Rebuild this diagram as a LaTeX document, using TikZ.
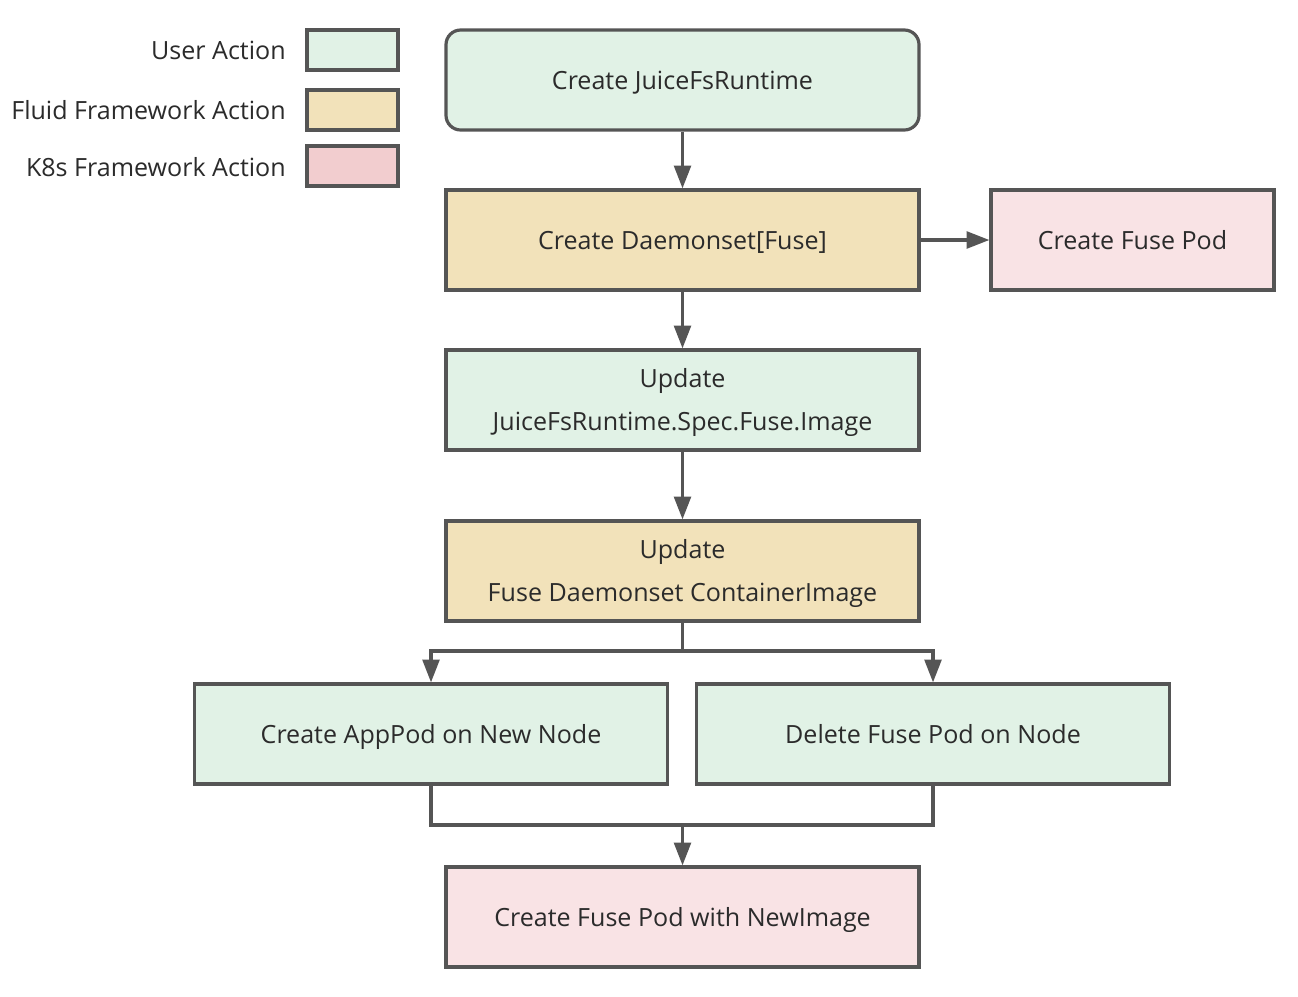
\documentclass[tikz,border=0pt]{standalone}
\usepackage{fontspec}
\setmainfont{Open Sans}
\usetikzlibrary{arrows.meta}
\definecolor{lc}{HTML}{555555}
\definecolor{ugreen}{HTML}{E1F2E6}
\definecolor{fyellow}{HTML}{F2E2BA}
\definecolor{kpink}{HTML}{F9E3E5}
\definecolor{kpinkleg}{HTML}{F2CDCF}
\definecolor{tc}{HTML}{2B2B2B}
\begin{document}
\begin{tikzpicture}[x=0.75pt,y=-0.75pt,
  box/.style={draw=lc,line width=2.4pt,inner sep=0pt,text=tc,font=\fontsize{18.8}{32.25}\selectfont,align=center},
  one/.style={text height=16pt,text depth=2pt},
  two/.style={text height=48.2pt,text depth=2pt},
  legtext/.style={anchor=east,text=tc,font=\fontsize{18.8}{22}\selectfont,inner sep=0pt,text height=16pt,text depth=2pt},
  conn/.style={draw=lc,line width=2.4pt,-{Triangle[length=17pt,width=12.5pt]}},
  plain/.style={draw=lc,line width=2.4pt}]
\useasboundingbox[fill=white] (0,0) rectangle (1298,996);
% legend
\node[box,fill=ugreen,minimum width=91*0.75pt,minimum height=40*0.75pt] (l1) at (352.5,50) {};
\node[box,fill=fyellow,minimum width=91*0.75pt,minimum height=40*0.75pt] (l2) at (352.5,110) {};
\node[box,fill=kpinkleg,minimum width=91*0.75pt,minimum height=40*0.75pt] (l3) at (352.5,166) {};
\node[legtext] (t1) at (286,50) {User Action};
\node[legtext] (t2) at (286,110) {Fluid Framework Action};
\node[legtext] (t3) at (286,167) {K8s Framework Action};
% main boxes
\tikzset{mb/.style={box,minimum width=473*0.75pt,minimum height=100*0.75pt}}
\node[mb,one,fill=ugreen,rounded corners=11pt] (a) at (682.5,80) {Create JuiceFsRuntime};
\node[mb,one,fill=fyellow] (b) at (682.5,240) {Create Daemonset[Fuse]};
\node[box,one,fill=kpink,minimum width=283*0.75pt,minimum height=100*0.75pt] (c) at (1132.5,240) {Create Fuse Pod};
\node[mb,two,fill=ugreen] (d) at (682.5,400) {Update\\JuiceFsRuntime.Spec.Fuse.Image};
\node[mb,two,fill=fyellow] (e) at (682.5,571) {Update\\Fuse Daemonset ContainerImage};
\node[mb,one,fill=ugreen] (f) at (431,734) {Create AppPod on New Node};
\node[mb,one,fill=ugreen] (g) at (933,734) {Delete Fuse Pod on Node};
\node[mb,one,fill=kpink] (h) at (682.5,917) {Create Fuse Pod with NewImage};
% connectors
\draw[conn] (a.south) -- (b.north);
\draw[conn] (b.east) -- (c.west);
\draw[conn] (b.south) -- (d.north);
\draw[conn] (d.south) -- (e.north);
\coordinate (sp) at (682.5,651);
\coordinate (mg) at (682.5,825);
\draw[plain] (e.south) -- (sp);
\draw[conn] (sp) -| (f.north);
\draw[conn] (sp) -| (g.north);
\draw[plain] (f.south) |- (mg);
\draw[plain] (g.south) |- (mg);
\draw[conn] (mg) -- (h.north);
\end{tikzpicture}
\end{document}
